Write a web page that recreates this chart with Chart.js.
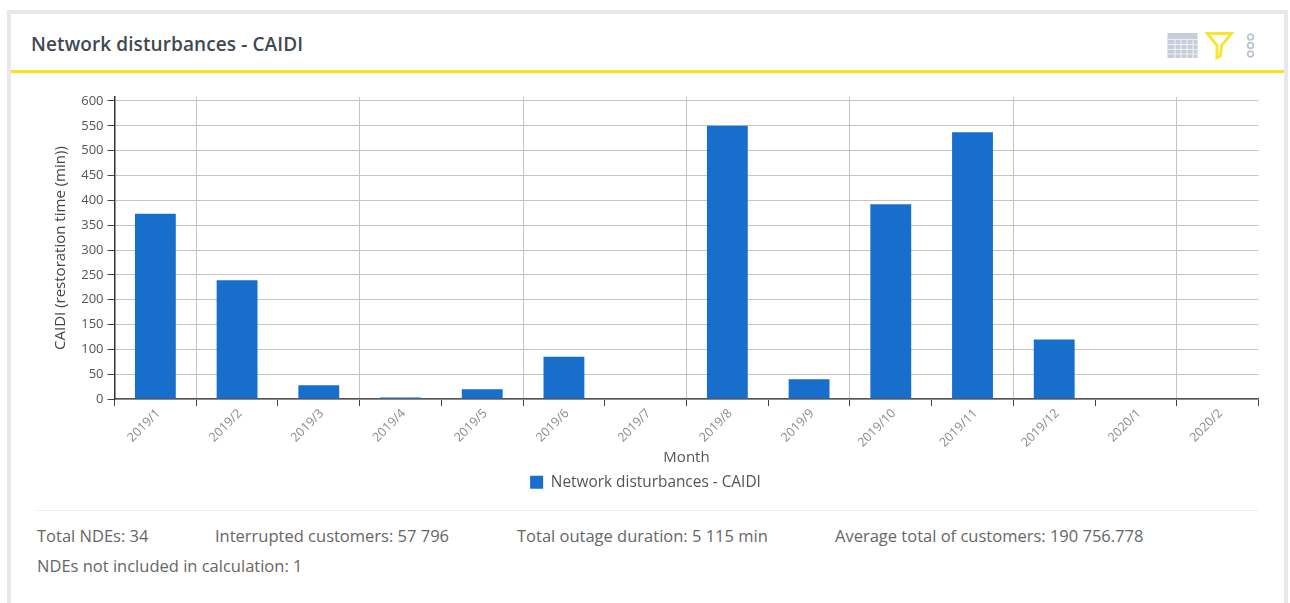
<!DOCTYPE html>
<html>
<head>
<meta charset="utf-8">
<title>Network disturbances - CAIDI</title>
<script src="https://cdn.jsdelivr.net/npm/chart.js@4"></script>
<style>
  html, body { margin: 0; padding: 0; background: #fff; overflow: hidden; }
  body { width: 1290px; height: 603px; position: relative; font-family: "Open Sans", sans-serif; }
  .card { position: absolute; left: 7px; top: 10px; width: 1273px; height: 593px; border: 4px solid #e8e8ea; border-bottom: 0; background: #fff; }
  .heading { position: absolute; left: 31px; top: 32px; font-size: 19px; font-weight: 600; color: #3f4953; line-height: 24px; white-space: nowrap; letter-spacing: 0.1px; }
  .rule { position: absolute; left: 11px; top: 70px; width: 1273px; height: 3px; background: #f9e21c; }
  .divider { position: absolute; left: 37px; top: 510px; width: 1221px; height: 1px; background: #ececec; }
  .stat { position: absolute; font-size: 16.5px; line-height: 20px; color: #666; white-space: nowrap; }
  canvas { position: absolute; left: 0; top: 0; }
  svg { position: absolute; }
</style>
</head>
<body>
<div class="card"></div>
<div class="heading">Network disturbances - CAIDI</div>
<div class="rule"></div>

<!-- header icons: table, filter, menu -->
<svg style="left:1167px;top:32px" width="31" height="27" viewBox="0 0 31 27">
  <rect x="0.5" y="1" width="30" height="25" fill="#c6ccda"/>
  <path d="M1 7.5H30M1 12.5H30M1 17.5H30M1 22H30M8 7V26M14 7V26M20 7V26M26 7V26" stroke="#eef0f5" stroke-width="1.2" fill="none"/>
</svg>
<svg style="left:1205px;top:30px" width="29" height="31" viewBox="0 0 29 31">
  <path d="M2.5 3.5H26.5L16.5 15.5L15.5 25.5L12 27.5L12 15.5Z" fill="none" stroke="#f9e436" stroke-width="3" stroke-linejoin="miter"/>
</svg>
<svg style="left:1243px;top:31px" width="15" height="29" viewBox="0 0 15 29">
  <g fill="none" stroke="#bcc3d4" stroke-width="1.8">
    <circle cx="7.5" cy="6" r="2.8"/><circle cx="7.5" cy="14.5" r="2.8"/><circle cx="7.5" cy="23" r="2.8"/>
  </g>
</svg>

<canvas id="caidiChart" width="1290" height="510"></canvas>

<div class="divider"></div>
<div class="stat" style="left:37px;top:526px">Total NDEs: 34</div>
<div class="stat" style="left:215px;top:526px">Interrupted customers: 57 796</div>
<div class="stat" style="left:517px;top:526px">Total outage duration: 5 115 min</div>
<div class="stat" style="left:835px;top:526px">Average total of customers: 190 756.778</div>
<div class="stat" style="left:37px;top:556px">NDEs not included in calculation: 1</div>

<script>
const months = ["2019/1", "2019/2", "2019/3", "2019/4", "2019/5", "2019/6", "2019/7",
  "2019/8", "2019/9", "2019/10", "2019/11", "2019/12", "2020/1", "2020/2"];
const caidi = [373, 239, 28, 3, 20, 85, 0, 550, 40, 392, 537, 120, 0, 0];

new Chart(document.getElementById("caidiChart"), {
  type: "bar",
  data: {
    labels: months,
    datasets: [
      {
        label: "Network disturbances - CAIDI",
        data: caidi,
        backgroundColor: "#176fcb",
        barPercentage: 0.5,
        categoryPercentage: 1,
      },
    ],
  },
  options: {
    responsive: false,
    animation: false,
    // left padding is small so the legend centres under the whole card
    layout: { padding: { left: 32.5, right: 31.5, top: 97, bottom: 10 } },
    plugins: {
      tooltip: { enabled: false },
      legend: {
        position: "bottom",
        labels: {
          boxWidth: 13,
          boxHeight: 13,
          color: "#555",
          font: { family: "Open Sans", size: 15.4 },
          padding: 7.5,
        },
      },
    },
    scales: {
      x: {
        grid: {
          // vertical rule on every second month, tick mark on all of them
          color: (ctx) => (ctx.index % 2 === 1 ? "#c4c4c4" : "transparent"),
          tickColor: "#444",
          tickLength: 7,
        },
        border: { color: "#555", width: 1.5 },
        ticks: {
          minRotation: 45,
          maxRotation: 45,
          autoSkip: false,
          color: "#8a8a8a",
          font: { family: "Open Sans", size: 12.5 },
          padding: 0,
          labelOffset: 3,
        },
        title: {
          display: true,
          text: "Month",
          color: "#555",
          font: { family: "Open Sans", size: 15 },
          padding: { top: 0, bottom: 0 },
        },
        afterFit: (scale) => { scale.height = 68; },
      },
      y: {
        min: 0,
        max: 608,
        grid: { color: "#c4c4c4", tickColor: "#444", tickLength: 7 },
        border: { color: "#333", width: 1.5 },
        ticks: {
          stepSize: 50,
          includeBounds: false,
          color: "#555",
          font: { family: "Open Sans", size: 13 },
          padding: 4,
        },
        title: {
          display: true,
          text: "CAIDI (restoration time (min))",
          color: "#444",
          font: { family: "Open Sans", size: 15 },
          padding: { top: 19, bottom: 0 },
        },
        afterFit: (scale) => { scale.width = 82; },
      },
    },
  },
});
</script>
</body>
</html>
